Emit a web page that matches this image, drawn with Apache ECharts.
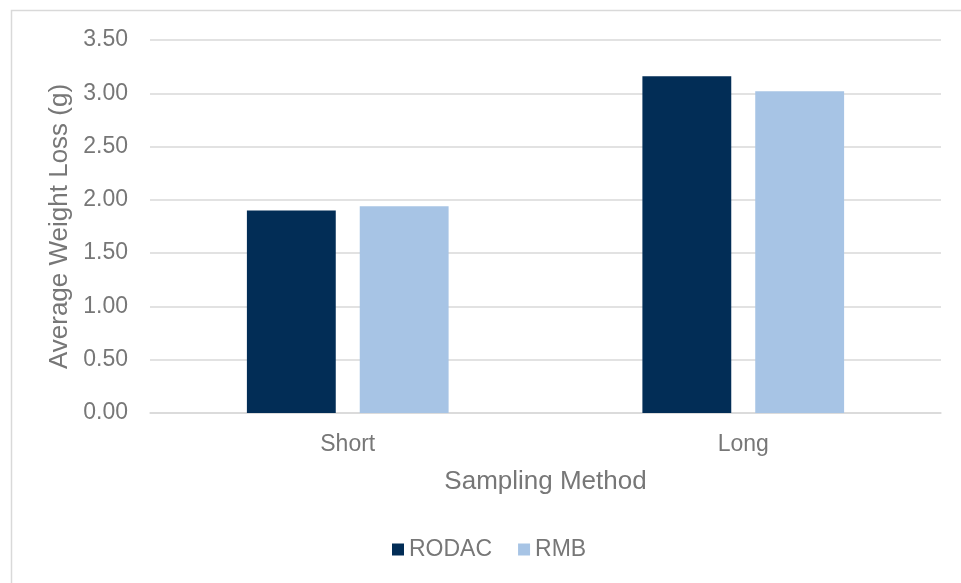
<!DOCTYPE html>
<html>
<head>
<meta charset="utf-8">
<script src="https://cdn.jsdelivr.net/npm/echarts@6/dist/echarts.min.js"></script>
<style>
  html, body { margin: 0; padding: 0; background: #fff; }
  #chart { width: 961px; height: 583px; }
</style>
</head>
<body>
<div id="chart"></div>
<script>
// Sampling methods on the category axis
const categories = ['Short', 'Long'];
// Average weight loss (g) per method
const rodacValues = [1.90, 3.16];
const rmbValues = [1.94, 3.02];
const seriesNames = ['RODAC', 'RMB'];

const textFont = '"Liberation Sans", Arial, sans-serif';
const textColor = '#777777';
const chart = echarts.init(document.getElementById('chart'), null, { renderer: 'canvas' });

chart.setOption({
  backgroundColor: '#ffffff',
  animation: false,
  textStyle: { fontFamily: textFont },
  graphic: [{
    type: 'rect',
    shape: { x: 11.5, y: 10.5, width: 980, height: 600 },
    style: { fill: 'none', stroke: '#d9d9d9', lineWidth: 1.5 },
    silent: true
  }],
  grid: { left: 150, right: 20, top: 40, bottom: 170, containLabel: false },
  legend: {
    data: seriesNames,
    left: 392,
    top: 538,
    padding: 0,
    itemWidth: 12,
    itemHeight: 12,
    itemGap: 26,
    icon: 'rect',
    textStyle: { color: textColor, fontSize: 23, fontFamily: textFont }
  },
  xAxis: {
    type: 'category',
    data: categories,
    name: 'Sampling Method',
    nameLocation: 'middle',
    nameGap: 56,
    nameTextStyle: { color: textColor, fontSize: 26, fontFamily: textFont },
    axisLine: { lineStyle: { color: '#d9d9d9', width: 1.5 } },
    axisTick: { show: false },
    axisLabel: { color: textColor, fontSize: 23, margin: 20, fontFamily: textFont }
  },
  yAxis: {
    type: 'value',
    min: 0,
    max: 3.5,
    interval: 0.5,
    name: 'Average Weight Loss (g)',
    nameLocation: 'middle',
    nameGap: 77,
    nameTextStyle: { color: textColor, fontSize: 26, fontFamily: textFont },
    axisLine: { show: false },
    axisTick: { show: false },
    splitLine: { lineStyle: { color: '#d9d9d9', width: 1.5 } },
    axisLabel: {
      color: textColor, fontSize: 23, margin: 22, fontFamily: textFont,
      formatter: v => v.toFixed(2)
    }
  },
  series: [
    {
      name: seriesNames[0],
      type: 'bar',
      data: rodacValues,
      itemStyle: { color: '#022d56' },
      barGap: '27%',
      barCategoryGap: '49%'
    },
    {
      name: seriesNames[1],
      type: 'bar',
      data: rmbValues,
      itemStyle: { color: '#a7c4e5' }
    }
  ]
});
</script>
</body>
</html>
